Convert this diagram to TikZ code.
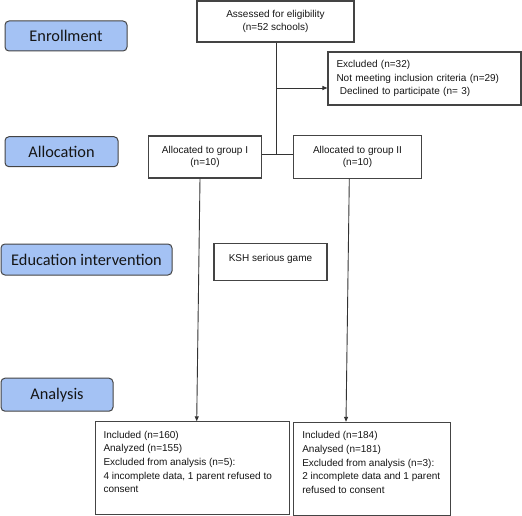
\documentclass[tikz,border=0pt]{standalone}
\usepackage{fontspec}
\setmainfont{Liberation Sans}
\newfontfamily\labelfont{Carlito}
\usetikzlibrary{arrows.meta}
\definecolor{lblue}{HTML}{A4C2F4}
\definecolor{edgec}{HTML}{444444}
\definecolor{txt}{HTML}{151515}
\begin{document}
\begin{tikzpicture}[x=1pt,y=-1pt,
  stage/.style={draw=edgec, line width=1pt, fill=lblue, rounded corners=4pt, text=txt,
    font=\labelfont\fontsize{16.3}{18}\selectfont, inner sep=0pt},
  cbox/.style={draw=edgec, line width=1.1pt, text=txt, font=\fontsize{10}{12.3}\selectfont,
    align=center, inner sep=0pt},
  lbox/.style={draw=edgec, line width=1.1pt, text=txt, font=\fontsize{10}{13.6}\selectfont,
    inner ysep=0pt},
  conn/.style={draw=black!80, line width=0.9pt},
  arr/.style={conn, -{Triangle[length=5pt,width=4pt]}}]
\useasboundingbox (0,0) rectangle (522,516);

\node[stage, minimum width=122pt, minimum height=30pt] (enroll) at (66,36) {Enrollment};
\node[cbox, minimum width=157pt, minimum height=41pt] (assess) at (275.5,21.5) {Assessed for eligibility\\(n=52 schools)};
\node[lbox, minimum width=193pt, minimum height=53pt, text width=176pt, align=left, inner xsep=8.5pt] (excl) at (424.5,78.5)
  {Excluded (n=32)\\Not meeting inclusion criteria (n=29)\\\ Declined to participate (n= 3)};

\node[stage, minimum width=113pt, minimum height=30pt] (alloc) at (61.5,151.7) {Allocation};
\node[cbox, minimum width=113pt, minimum height=42pt] (g1) at (205,157) {Allocated to group I\\(n=10)};
\node[cbox, minimum width=128pt, minimum height=43pt] (g2) at (357.5,156.7) {Allocated to group II\\(n=10)};

\node[stage, minimum width=171pt, minimum height=31pt] (edu) at (86.5,259.5) {Education intervention};
\node[cbox, minimum width=113pt, minimum height=37pt, text height=7pt, text depth=8.2pt] (ksh) at (270.5,261.7) {KSH serious game};

\node[stage, minimum width=112pt, minimum height=33pt] (anal) at (57,394.7) {Analysis};
\node[lbox, minimum width=193.6pt, minimum height=92.3pt, inner xsep=7.6pt] (a1) at (192.5,468)
  {\parbox[c][74pt][t]{178pt}{\raggedright Included (n=160)\\Analyzed (n=155)\\Excluded from analysis (n=5):\\4 incomplete data, 1 parent refused to\\consent}};
\node[lbox, minimum width=157pt, minimum height=92.7pt, inner xsep=9pt] (a2) at (371.8,468.7)
  {\parbox[c][74pt][t]{139pt}{\raggedright Included (n=184)\\Analysed (n=181)\\Excluded from analysis (n=3):\\2 incomplete data and 1 parent\\refused to consent}};

\coordinate (j1) at (276,88);
\coordinate (j2) at (276,154);
\draw[conn] (assess.south -| j2) -- (j2);
\draw[arr] (j1) -- (j1 -| excl.west);
\draw[conn] (g1.east |- j2) -- (g2.west |- j2);
\draw[arr] ([xshift=-5pt]g1.south) -- ([xshift=4.2pt]a1.north);
\draw[arr] ([xshift=-8.2pt]g2.south) -- ([xshift=-25.8pt]a2.north);
\end{tikzpicture}
\end{document}
